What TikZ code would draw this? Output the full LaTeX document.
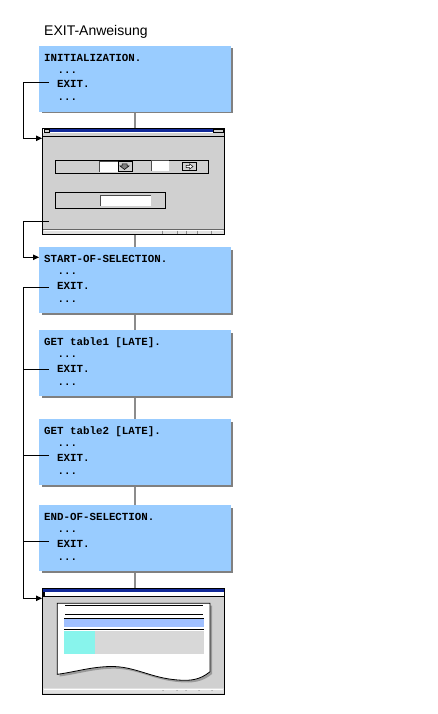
\documentclass[tikz,border=0pt]{standalone}
\usepackage{fontspec}
\setmainfont{Liberation Sans}
\newfontfamily\codefont{Liberation Mono}
\usetikzlibrary{arrows.meta}
\definecolor{boxblue}{HTML}{99CCFF}
\definecolor{shadowgray}{HTML}{808080}
\definecolor{wingray}{HTML}{D0D0D0}
\definecolor{titleblue}{HTML}{102898}
\definecolor{vlinegray}{HTML}{8C8C8C}
\definecolor{paperblue}{HTML}{A0C0FF}
\definecolor{papergray}{HTML}{D8D8D8}
\definecolor{papercyan}{HTML}{88F4EC}
\definecolor{statusgray}{HTML}{E0E0E0}
\begin{document}
\begin{tikzpicture}[x=1pt,y=-1pt,
  codebox/.style={fill=boxblue, draw=none, minimum width=192pt, minimum height=66pt,
    anchor=north west, inner sep=0pt, outer sep=0pt},
  code/.style={font=\codefont\bfseries\fontsize{10.8}{11}\selectfont, anchor=base west, inner sep=0pt},
  win/.style={draw=black, line width=1pt, fill=wingray, minimum width=181.6pt,
    minimum height=106pt, anchor=north west, inner sep=0pt, outer sep=0pt},
  conn/.style={black, line width=1pt},
  arr/.style={conn, -{Triangle[length=6pt,width=5.5pt]}},
  vline/.style={vlinegray, line width=2pt},
  thin/.style={black, line width=0.7pt},
  field/.style={fill=white},
  fieldedge/.style={draw=black!70, line width=0.8pt}
]
\useasboundingbox (0,0) rectangle (437,714);

% title
\node[font=\fontsize{14}{14}\selectfont, anchor=base west, inner sep=0pt] (title) at (44,36) {EXIT-Anweisung};

% code block macro: name, top, first line, exit-line y offset
\newcommand\codeblk[4]{%
  \fill[shadowgray] (41.5,#2+2.5) rectangle (233,#2+67.5);
  \node[codebox] (#1) at (39,#2) {};
  \node[code] (#1t) at (44,#2+15.5) {#3};
  \node[code] (#1d) at (57.5,#2+27.5) {...};
  \node[code] (#1x) at (57,#2+42) {EXIT.};
  \node[code] (#1u) at (57.5,#2+55) {...};
  \coordinate (#1e) at (49,#2+#4);
}

% gray vertical connector (behind)
\coordinate (vtop) at (135,112);
\coordinate (vbot) at (135,588);
\draw[vline] (vtop) -- (vbot);

\codeblk{b1}{46}{INITIALIZATION.}{36.8}

% window 1
\node[win] (w1) at (42.7,128.3) {};
\fill[white] (43.3,129) rectangle (223.7,133);
\fill[titleblue] (50,129.3) rectangle (213,132.5);
\draw[line width=0.4pt, fill=wingray] (43.8,129.5) rectangle (49.5,132.5);
\draw[line width=0.4pt, fill=wingray] (213.5,129.5) rectangle (223.3,132.5);
\draw[line width=0.6pt] (43.2,136.5) -- (223.8,136.5);
\draw[thin] (55,160.3) rectangle (208.7,173.3);
\fill[field] (99.3,161.7) rectangle (118.3,171.7);
\draw[fieldedge] (99.3,171.7) -- (99.3,161.7) -- (118.3,161.7);
\draw[thin, fill=wingray] (118.3,161.7) rectangle (132.7,171.7);
\draw[line width=0.5pt, fill=black!50] (122,164) -- (127,164) -- (127,166) -- (129,166) -- (124.5,169.5) -- (120,166) -- (122,166) -- cycle;
\fill[field] (151,160.7) rectangle (169,170.7);
\draw[fieldedge] (151,170.7) -- (151,160.7) -- (169,160.7);
\draw[thin, fill=wingray] (182.3,162.3) rectangle (196.7,170.7);
\draw[line width=0.5pt, fill=white] (186,165.3) -- (189.5,165.3) -- (189.5,163.8) -- (193,166.5) -- (189.5,169.2) -- (189.5,167.7) -- (186,167.7) -- cycle;
\draw[thin] (55,192.3) rectangle (165.7,208.7);
\fill[field] (100,195) rectangle (151,206);
\draw[fieldedge] (100,206) -- (100,195) -- (151,195);
\fill[statusgray] (43.3,229.5) rectangle (223.7,233.7);
\draw[white, line width=0.6pt] (44,230.2) -- (223,230.2);
\draw[black!60, line width=0.5pt] (43.3,229.3) -- (223.7,229.3);
\foreach \sx in {162,177,186,197,211} \draw[black!45, line width=0.4pt] (\sx,230.5) -- (\sx,233.5);
\coordinate (w1e) at (49,221);

\codeblk{b2}{247}{START-OF-SELECTION.}{40.3}
\codeblk{b3}{330}{GET table1 [LATE].}{39}
\codeblk{b4}{419}{GET table2 [LATE].}{36}
\codeblk{b5}{505}{END-OF-SELECTION.}{36.7}

% window 2
\node[win] (w2) at (42.7,588.3) {};
\fill[white] (43.3,589) rectangle (223.7,596);
\fill[titleblue] (43.3,589) rectangle (223.7,591.7);
\draw[line width=0.6pt] (43.2,596.5) -- (223.8,596.5);
\fill[black] (43.2,592) rectangle (45,596.5);
% paper shadow
\fill[black!40] (59.5,605.5) -- (212.2,605.5) -- (212.2,673.9) .. controls (202.2,682.2) and (192.2,683.2) .. (180.2,682.2) .. controls (152.2,680.2) and (137.2,668.2) .. (112.2,668.7) .. controls (92.2,669.2) and (77.2,674.2) .. (59.5,676.5) -- cycle;
\draw[line width=0.8pt, fill=white] (57.3,603.3) -- (210,603.3) -- (210,671.7) .. controls (200,680) and (190,681) .. (178,680) .. controls (150,678) and (135,666) .. (110,666.5) .. controls (90,667) and (75,672) .. (57.3,674.3) -- cycle;
\draw[thin] (65,605) -- (202.7,605);
\draw[thin] (65,614.3) -- (202.7,614.3);
\draw[thin] (64,618.3) -- (204,618.3);
\fill[paperblue] (64,619) rectangle (204,626.7);
\draw[thin] (64,629.3) -- (204,629.3);
\fill[papergray] (64,631) rectangle (204,653.7);
\fill[papercyan] (64,631) rectangle (95,653.7);
\fill[statusgray] (43.3,688.3) rectangle (223.7,692.8);
\draw[white, line width=0.6pt] (44,689) -- (223,689);
\foreach \sx in {163,177,186,199,212} \fill[black!60] (\sx,690.5) circle (0.5);

% EXIT connectors
\coordinate (t1) at (42,138.3);
\coordinate (t2) at (39,257.3);
\coordinate (t3) at (42,598.3);
\draw[arr] (b1e) -- ++(-26,0) |- (t1);
\draw[arr] (w1e) -- ++(-26,0) |- (t2);
\draw[arr] (b2e) -- ++(-26,0) |- (t3);
\draw[conn] (b3e) -- ++(-26,0);
\draw[conn] (b4e) -- ++(-26,0);
\draw[conn] (b5e) -- ++(-26,0);
\end{tikzpicture}
\end{document}
